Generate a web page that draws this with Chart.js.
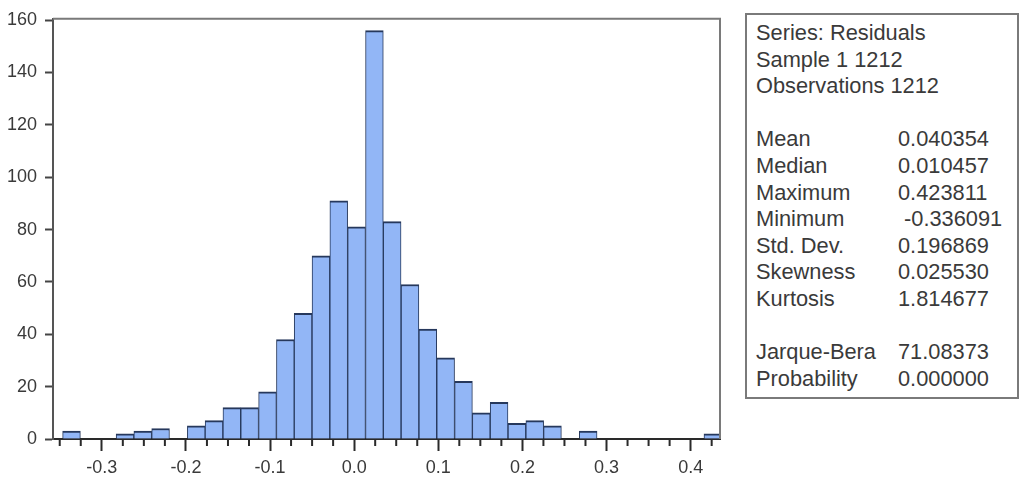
<!DOCTYPE html>
<html>
<head>
<meta charset="utf-8">
<script src="https://cdn.jsdelivr.net/npm/chart.js@4.4.1/dist/chart.umd.min.js"></script>
<style>
  html, body { margin: 0; padding: 0; background: #fff; }
  body { width: 1032px; height: 492px; position: relative; overflow: hidden; font-family: "Liberation Sans", Arial, sans-serif; }
  #plot { position: absolute; left: 0; top: 0; width: 730px; height: 492px; }
  #stats {
    position: absolute; left: 745px; top: 13px; width: 274px; height: 386px;
    box-sizing: border-box; border: 2px solid #7a7a7a;
    padding: 5px 0 0 9px; color: #3a3a3a; font-size: 21.8px; line-height: 26.6px;
  }
  #stats .row { white-space: pre; height: 26.6px; }
  #stats .lab { display: inline-block; width: 142px; }
</style>
</head>
<body>
<div id="plot"><canvas id="chartHist"></canvas></div>
<div id="stats"></div>
<script>
(function () {
  "use strict";

  // histogram bins (left edges) and counts
  const binWidth = 0.02118;
  const binLeft = [
    -0.3466, -0.3254, -0.3042, -0.2830, -0.2619, -0.2407, -0.2195, -0.1983,
    -0.1772, -0.1560, -0.1348, -0.1136, -0.0924, -0.0713, -0.0501, -0.0289,
    -0.0077, 0.0135, 0.0346, 0.0558, 0.0770, 0.0982, 0.1194, 0.1405,
    0.1617, 0.1829, 0.2041, 0.2252, 0.2464, 0.2676, 0.2888, 0.3100,
    0.3311, 0.3523, 0.3735, 0.3947, 0.4158
  ];
  const counts = [
    3, 0, 0, 2, 3, 4, 0, 5,
    7, 12, 12, 18, 38, 48, 70, 91,
    81, 156, 83, 59, 42, 31, 22, 10,
    14, 6, 7, 5, 0, 3, 0, 0,
    0, 0, 0, 0, 2
  ];

  // axes
  const xTicks = [-0.3, -0.2, -0.1, 0.0, 0.1, 0.2, 0.3, 0.4];
  const xMinorTicks = [
    -0.35, -0.325, -0.275, -0.25, -0.225, -0.175, -0.15, -0.125,
    -0.075, -0.05, -0.025, 0.025, 0.05, 0.075, 0.125, 0.15,
    0.175, 0.225, 0.25, 0.275, 0.325, 0.35, 0.375, 0.425
  ];
  const yTicks = [0, 20, 40, 60, 80, 100, 120, 140, 160];

  // stats panel
  const statsHeader = ["Series: Residuals", "Sample 1 1212", "Observations 1212"];
  const statLabels = ["Mean", "Median", "Maximum", "Minimum", "Std. Dev.", "Skewness", "Kurtosis"];
  const statValues = ["0.040354", "0.010457", "0.423811", " -0.336091", "0.196869", "0.025530", "1.814677"];
  const testLabels = ["Jarque-Bera", "Probability"];
  const testValues = ["71.08373", "0.000000"];

  const box = document.getElementById("stats");
  const rows = [];
  statsHeader.forEach(t => rows.push(`<div class="row">${t}</div>`));
  rows.push('<div class="row"></div>');
  statLabels.forEach((l, i) => rows.push(`<div class="row"><span class="lab">${l}</span>${statValues[i]}</div>`));
  rows.push('<div class="row"></div>');
  testLabels.forEach((l, i) => rows.push(`<div class="row"><span class="lab">${l}</span>${testValues[i]}</div>`));
  box.innerHTML = rows.join("");

  // frame (top/right) and minor x ticks
  const framePlugin = {
    id: "frame",
    afterDraw(chart) {
      const { ctx, chartArea: a, scales } = chart;
      ctx.save();
      ctx.strokeStyle = "#7a7a7a";
      ctx.lineWidth = 2;
      ctx.beginPath();
      ctx.moveTo(a.left, a.top);
      ctx.lineTo(a.right, a.top);
      ctx.lineTo(a.right, a.bottom);
      ctx.stroke();
      ctx.strokeStyle = "#2a2a2a";
      ctx.lineWidth = 2;
      ctx.beginPath();
      xMinorTicks.forEach(v => {
        const px = scales.x.getPixelForValue(v);
        ctx.moveTo(px, a.bottom);
        ctx.lineTo(px, a.bottom + 7);
      });
      ctx.stroke();
      ctx.restore();
    }
  };

  const tickFont = { family: "'Liberation Sans', Arial, sans-serif", size: 18 };

  new Chart(document.getElementById("chartHist"), {
    type: "bar",
    data: {
      datasets: [{
        data: counts.map((c, i) => ({ x: binLeft[i] + binWidth / 2, y: c || null })),
        backgroundColor: "#92b6f6",
        borderColor: "#26385c",
        borderWidth: { top: 2, left: 1, right: 1, bottom: 0 },
        borderSkipped: false,
        barPercentage: 1,
        categoryPercentage: 1,
      }],
    },
    options: {
      responsive: true,
      maintainAspectRatio: false,
      animation: false,
      layout: { padding: { top: 12, right: 10, left: 0, bottom: 0 } },
      plugins: { legend: { display: false }, tooltip: { enabled: false } },
      scales: {
        x: {
          type: "linear",
          min: -0.358,
          max: 0.4349,
          offset: false,
          afterFit(s) { s.height = 53; },
          afterBuildTicks(s) { s.ticks = xTicks.map(v => ({ value: v })); },
          border: { display: true, color: "#2a2a2a", width: 2 },
          grid: { display: true, offset: false, drawOnChartArea: false, drawTicks: true, tickLength: 12, tickWidth: 2, tickColor: "#2a2a2a" },
          ticks: { font: tickFont, color: "#3a3a3a", padding: 6, maxRotation: 0, autoSkip: false,
                   callback: v => v.toFixed(1) },
        },
        y: {
          min: 0,
          max: 160.5,
          afterFit(s) { s.width = 53; },
          afterBuildTicks(s) { s.ticks = yTicks.map(v => ({ value: v })); },
          border: { display: true, color: "#555", width: 2 },
          grid: { display: true, drawOnChartArea: false, drawTicks: true, tickLength: 8, tickWidth: 2, tickColor: "#444" },
          ticks: { font: tickFont, color: "#3a3a3a", padding: 8, autoSkip: false },
        },
      },
    },
    plugins: [framePlugin],
  });
})();
</script>
</body>
</html>
